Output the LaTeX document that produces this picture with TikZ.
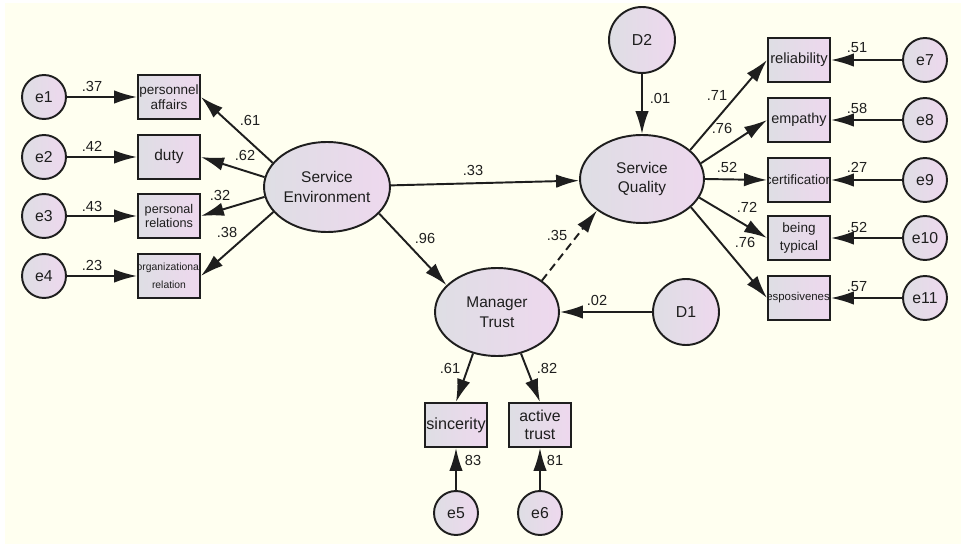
\documentclass[tikz,border=0pt]{standalone}
\usepackage{fontspec}
\setmainfont{Liberation Sans}
\usetikzlibrary{arrows.meta,shapes.geometric}

\definecolor{paper}{RGB}{255,255,240}
\definecolor{shadeL}{RGB}{222,222,228}
\definecolor{shadeR}{RGB}{238,216,238}
\definecolor{ink}{RGB}{30,30,30}

\tikzset{
  latent/.style={ellipse, draw=ink, line width=1.1pt, left color=shadeL, right color=shadeR,
    minimum width=2.48cm, minimum height=1.76cm, inner sep=0pt, align=center, text=ink,
    font=\fontsize{8.8}{11.3}\selectfont},
  err/.style={circle, draw=ink, line width=1.1pt, left color=shadeL, right color=shadeR,
    minimum size=0.88cm, inner sep=0pt, text=ink, font=\fontsize{9}{10}\selectfont},
  dist/.style={err, minimum size=1.32cm},
  obs/.style={rectangle, draw=ink, line width=1.1pt, left color=shadeL, right color=shadeR,
    minimum width=1.24cm, minimum height=0.88cm, inner sep=0pt},
  link/.style={draw=ink, line width=1.1pt, -{Latex[length=4.6mm,width=2.7mm]}},
  coef/.style={font=\fontsize{8.3}{9}\selectfont, text=ink, inner sep=0pt},
}

\begin{document}
\begin{tikzpicture}[x=0.02cm, y=-0.02cm]
  \useasboundingbox (0,0) rectangle (961,544);
  \fill[white] (0,0) rectangle (961,544);
  \fill[paper] (5,3) rectangle (961,544);

  % observed variable, text clipped to the box
  \newcommand{\obsbox}[4]{
    \node[obs] (#1) at (#2) {};
    \begin{scope}
      \clip (#1.south west) rectangle (#1.north east);
      \node[font={#4}, align=center, text=ink, inner sep=0pt] at (#1) {#3};
    \end{scope}
  }

  % latent variables
  \node[latent, minimum width=2.52cm, minimum height=1.8cm] (SE) at (327,187) {Service\\Environment};
  \node[latent] (SQ) at (642,179) {Service\\Quality};
  \node[latent] (MT) at (497,312) {Manager\\Trust};
  \node[dist] (D2) at (642,40) {D2};
  \node[dist] (D1) at (686,312) {D1};

  % left side
  \node[err] (e1) at (44,97) {e1};
  \node[err] (e2) at (44,157) {e2};
  \node[err] (e3) at (44,216) {e3};
  \node[err] (e4) at (44,276) {e4};
  \obsbox{pa}{169,97}{personnel\\affairs}{\fontsize{7.7}{8.5}\selectfont}
  \obsbox{duty}{169,157}{duty}{\fontsize{8.8}{10}\selectfont}
  \obsbox{pr}{169,216}{personal\\relations}{\fontsize{7.2}{8}\selectfont}
  \obsbox{org}{169,276}{organizational\\relation}{\fontsize{5.9}{10.5}\selectfont}

  % right side
  \obsbox{rel}{799,60}{reliability}{\fontsize{8.4}{10}\selectfont}
  \obsbox{emp}{799,120}{empathy}{\fontsize{8.2}{10}\selectfont}
  \obsbox{cert}{799,180}{certification}{\fontsize{7.7}{9}\selectfont}
  \obsbox{typ}{799,238}{being\\typical}{\fontsize{7.7}{10.2}\selectfont}
  \obsbox{resp}{799,298}{resposiveness}{\fontsize{6.5}{7}\selectfont}
  \node[err] (e7) at (925,60) {e7};
  \node[err] (e8) at (925,120) {e8};
  \node[err] (e9) at (925,180) {e9};
  \node[err] (e10) at (925,238) {e10};
  \node[err] (e11) at (925,298) {e11};

  % bottom
  \obsbox{sin}{456,425}{sincerity}{\fontsize{9.2}{10}\selectfont}
  \obsbox{act}{540,425}{active\\trust}{\fontsize{9}{10.2}\selectfont}
  \node[err] (e5) at (456,513) {e5};
  \node[err] (e6) at (540,513) {e6};

  % errors to indicators
  \draw[link] (e1) -- (pa);
  \draw[link] (e2) -- (duty);
  \draw[link] (e3) -- (pr);
  \draw[link] (e4) -- (org);
  \draw[link] (e7) -- (rel);
  \draw[link] (e8) -- (emp);
  \draw[link] (e9) -- (cert);
  \draw[link] (e10) -- (typ);
  \draw[link] (e11) -- (resp);
  \draw[link] (e5) -- (sin);
  \draw[link] (e6) -- (act);

  % loadings
  \draw[link] (SE.156) -- (pa.east);
  \draw[link] (SE.171) -- (duty.east);
  \draw[link] (SE.189) -- (pr.east);
  \draw[link] (SE.205) -- (org.east);
  \draw[link] (SQ.31) -- (rel.west);
  \draw[link] (SQ.15) -- (emp.west);
  \draw[link] (SQ.0) -- (cert.west);
  \draw[link] (SQ.-18) -- (typ.west);
  \draw[link] (SQ.-30) -- (resp.west);
  \draw[link] (MT.240) -- (sin.north);
  \draw[link] (MT.300) -- (act.north);

  % structural paths
  \draw[link] (SE) -- (SQ);
  \draw[link] (SE.-27) -- (MT.152);
  \draw[link, dash pattern=on 0.16cm off 0.1cm] (MT.35) -- (SQ.215);
  \draw[link] (D1) -- (MT);
  \draw[link] (D2) -- (SQ);

  % coefficients
  \node[coef] (c1) at (92,86) {.37};
  \node[coef] (c2) at (92,146) {.42};
  \node[coef] (c3) at (92,206) {.43};
  \node[coef] (c4) at (92,265) {.23};
  \node[coef] (l1) at (250,120) {.61};
  \node[coef] (l2) at (245,155) {.62};
  \node[coef] (l3) at (220,195) {.32};
  \node[coef] (l4) at (227,232) {.38};
  \node[coef] (s1) at (473,170) {.33};
  \node[coef] (s2) at (425,238) {.96};
  \node[coef] (s3) at (557,235) {.35};
  \node[coef] (s4) at (597,300) {.02};
  \node[coef] (s5) at (660,98) {.01};
  \node[coef] (q1) at (717,95) {.71};
  \node[coef] (q2) at (722,128) {.76};
  \node[coef] (q3) at (727,167) {.52};
  \node[coef] (q4) at (747,207) {.72};
  \node[coef] (q5) at (745,242) {.76};
  \node[coef] (r1) at (857,48) {.51};
  \node[coef] (r2) at (857,108) {.58};
  \node[coef] (r3) at (857,167) {.27};
  \node[coef] (r4) at (857,227) {.52};
  \node[coef] (r5) at (857,287) {.57};
  \node[coef] (m1) at (450,368) {.61};
  \node[coef] (m2) at (547,368) {.82};
  \node[coef] (m3) at (473,460) {83};
  \node[coef] (m4) at (555,460) {81};
\end{tikzpicture}
\end{document}
